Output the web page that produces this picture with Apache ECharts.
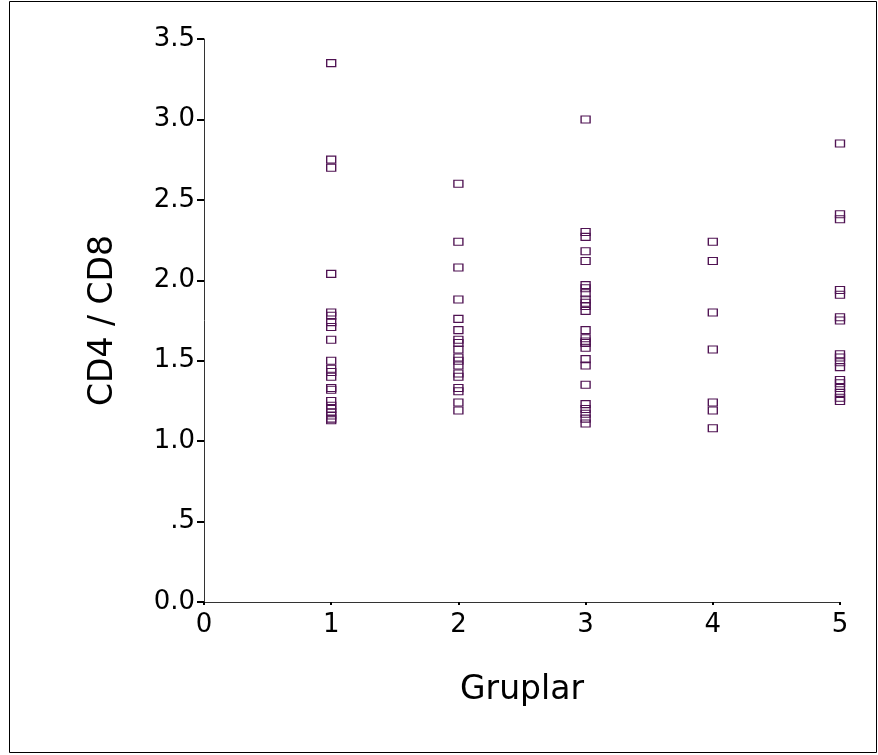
<!DOCTYPE html>
<html>
<head>
<meta charset="utf-8">
<script src="https://cdn.jsdelivr.net/npm/echarts@6/dist/echarts.min.js"></script>
<style>
  html, body { margin: 0; padding: 0; background: #fff; }
  #chart { width: 878px; height: 755px; }
</style>
</head>
<body>
<div id="chart"></div>
<script>
// CD4 / CD8 ratio per group
const groups = [1, 2, 3, 4, 5];
const group1 = [3.35, 2.75, 2.70, 2.04, 1.80, 1.78, 1.74, 1.71, 1.63, 1.50, 1.45, 1.43, 1.40, 1.33, 1.32, 1.25, 1.22, 1.20, 1.18, 1.16, 1.14, 1.13];
const group2 = [2.60, 2.24, 2.08, 1.88, 1.76, 1.69, 1.63, 1.61, 1.57, 1.52, 1.50, 1.47, 1.42, 1.40, 1.33, 1.31, 1.24, 1.19];
const group3 = [3.00, 2.30, 2.27, 2.18, 2.12, 1.97, 1.95, 1.92, 1.88, 1.86, 1.84, 1.81, 1.69, 1.64, 1.62, 1.61, 1.58, 1.51, 1.47, 1.35, 1.23, 1.20, 1.17, 1.14, 1.11];
const group4 = [2.24, 2.12, 1.80, 1.57, 1.24, 1.19, 1.08];
const group5 = [2.85, 2.41, 2.38, 1.94, 1.91, 1.77, 1.75, 1.54, 1.52, 1.49, 1.46, 1.38, 1.36, 1.33, 1.30, 1.27, 1.25];
const yTickLabels = { '0': '0.0', '0.5': '.5', '1': '1.0', '1.5': '1.5', '2': '2.0', '2.5': '2.5', '3': '3.0', '3.5': '3.5' };

const allGroups = [group1, group2, group3, group4, group5];
const points = [];
allGroups.forEach((vals, i) => {
  vals.forEach(v => points.push([groups[i], v]));
});

const font = '"DejaVu Sans", Arial, sans-serif';
const chart = echarts.init(document.getElementById('chart'));
chart.setOption({
  animation: false,
  textStyle: { fontFamily: font },
  grid: { left: 204, right: 38, top: 39, bottom: 153 },
  graphic: [{
    type: 'rect',
    shape: { x: 9.5, y: 1.5, width: 867, height: 751 },
    style: { fill: 'none', stroke: '#000', lineWidth: 1 }
  }],
  xAxis: {
    type: 'value',
    min: 0, max: 5, interval: 1,
    name: 'Gruplar',
    nameLocation: 'middle',
    nameGap: 72,
    nameTextStyle: { fontSize: 33, color: '#000', fontFamily: font },
    splitLine: { show: false },
    axisLine: { onZero: false, lineStyle: { color: '#333', width: 1 } },
    axisTick: { length: 3, lineStyle: { color: '#000', width: 2 } },
    axisLabel: { fontSize: 26, color: '#000', margin: 10, fontFamily: font }
  },
  yAxis: {
    type: 'value',
    min: 0, max: 3.5, interval: 0.5,
    name: 'CD4 / CD8',
    nameLocation: 'middle',
    nameRotate: 90,
    nameGap: 84,
    nameTextStyle: { fontSize: 33, color: '#000', fontFamily: font },
    splitLine: { show: false },
    axisLine: { lineStyle: { color: '#333', width: 1 } },
    axisTick: { length: 7, lineStyle: { color: '#000', width: 2 } },
    axisLabel: {
      fontSize: 26, color: '#000', margin: 9, fontFamily: font,
      formatter: v => yTickLabels[String(v)] || v.toFixed(1)
    }
  },
  series: [{
    type: 'scatter',
    data: points,
    symbol: 'rect',
    symbolSize: [9, 7],
    itemStyle: { color: 'rgba(0,0,0,0)', borderColor: '#4f1252', borderWidth: 1.2, opacity: 1 }
  }]
});
</script>
</body>
</html>
